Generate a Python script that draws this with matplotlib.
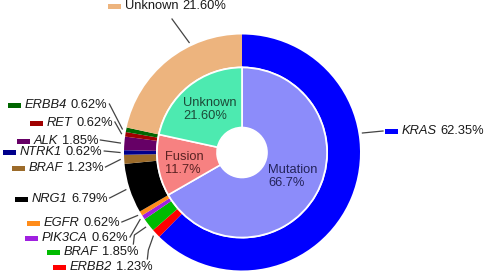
import numpy as np
import matplotlib
matplotlib.use("Agg")
import matplotlib.pyplot as plt
from matplotlib.patches import Rectangle

plt.rcParams["font.family"] = ["Liberation Sans", "DejaVu Sans"]

# inner ring
groups = ["Mutation", "Fusion", "Unknown"]
group_pct = [66.7, 11.7, 21.60]
group_labels = ["Mutation\n66.7%", "Fusion\n11.7%", "Unknown\n21.60%"]
group_colors = ["#8c8cfa", "#f78181", "#4deab0"]
group_text_colors = ["#23235a", "#5a2222", "#1c4a38"]

# outer ring
genes = ["KRAS", "ERBB2", "BRAF", "PIK3CA", "EGFR",
         "NRG1", "BRAF", "NTRK1", "ALK", "RET", "ERBB4", "Unknown"]
gene_pct = [62.35, 1.23, 1.85, 0.62, 0.62,
            6.79, 1.23, 0.62, 1.85, 0.62, 0.62, 21.60]
gene_colors = ["#0000ff", "#ff0000", "#00bb00", "#a020e0", "#ff8c1a",
               "#000000", "#9c6b2a", "#00008c", "#660066", "#a00000", "#006600", "#edb47e"]

W, H = 487, 275
fig = plt.figure(figsize=(W / 100, H / 100), dpi=100)
ax = fig.add_axes([0, 0, 1, 1])

def Y(py):
    return H - py

cx, cy = 242, Y(152.5)
R = 118

outer, _ = ax.pie(gene_pct, radius=R, center=(cx, cy), startangle=90, counterclock=False,
                  colors=gene_colors, wedgeprops=dict(width=32, linewidth=0))
ax.pie(group_pct, radius=85, center=(cx, cy), startangle=90, counterclock=False,
       colors=group_colors, wedgeprops=dict(width=60, edgecolor="white", linewidth=1.2))

ax.set_xlim(0, W)
ax.set_ylim(0, H)
ax.axis("off")

fs = 9.3
# inner labels (left x, center y in px)
inner_pos = [(268, 176.5), (165, 163.5), (183, 109.5)]
for lab, (px, py), c in zip(group_labels, inner_pos, group_text_colors):
    ax.text(px, Y(py), lab, ha="left", va="center", fontsize=fs, color=c, linespacing=1.15)

# label layout: marker x, center y (px), position in wedge, leader style
label_pos = [(385, 131, 0.36, "right"),
             (53, 267, 0.5, "elbow"),
             (47, 252, 0.5, "elbow"),
             (25, 238, 0.5, "left"),
             (27, 223, 0.5, "left"),
             (15, 199, 0.5, "left"),
             (12, 168, 0.5, "left"),
             (3, 152, 0.5, "left"),
             (17, 141, 0.5, "left"),
             (30, 123, 0.5, "left"),
             (8, 105, 0.5, "left"),
             (108, 6, 0.67, "top")]

fig.canvas.draw()
rend = fig.canvas.get_renderer()

for w, g, v, c, (mx, my, frac, style) in zip(outer, genes, gene_pct, gene_colors, label_pos):
    ax.add_patch(Rectangle((mx, Y(my) - 2.5), 13, 5, color=c, lw=0))
    style_g = "normal" if g == "Unknown" else "italic"
    t1 = ax.text(mx + 17, Y(my), g, ha="left", va="center", fontsize=fs, style=style_g,
                 color="#1a1a1a")
    bb = t1.get_window_extent(rend)
    t2 = ax.text(bb.x1 + 3.5, Y(my), f"{v:.2f}%", ha="left", va="center", fontsize=fs,
                 color="#1a1a1a")
    x_end = t2.get_window_extent(rend).x1

    a = np.deg2rad(w.theta2 - frac * (w.theta2 - w.theta1))
    p = (cx + (R + 4) * np.cos(a), cy + (R + 4) * np.sin(a))
    if style == "left":
        xs, ys = [x_end + 2, p[0]], [Y(my) + 1, p[1]]
    elif style == "elbow":
        xs, ys = [x_end - 5, x_end - 4, p[0]], [Y(my - 8), Y(my - 17), p[1]]
    elif style == "right":
        xs, ys = [p[0], mx - 2], [p[1], Y(my)]
    else:
        xs, ys = [mx + 64, p[0]], [Y(my + 13), p[1]]
    ax.plot(xs, ys, color="#444444", lw=0.9)

fig.savefig("out.png", dpi=100)
